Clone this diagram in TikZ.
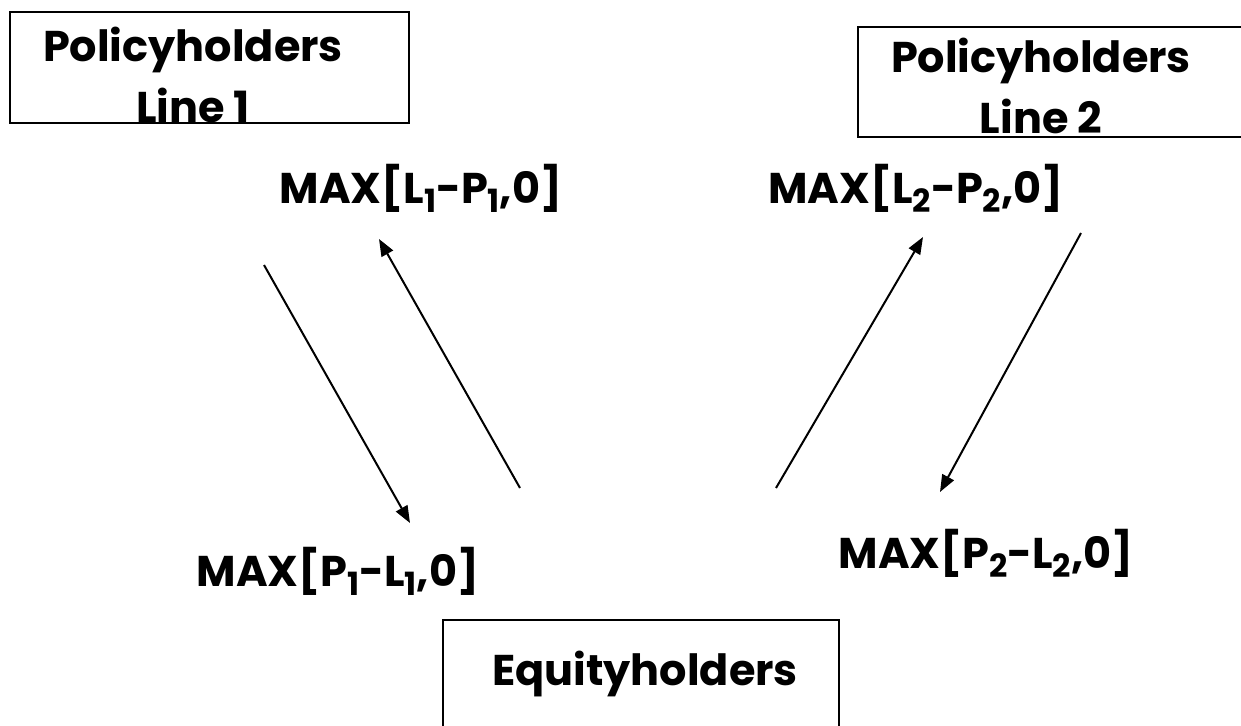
\documentclass[tikz,border=0pt]{standalone}
\usepackage{fontspec}
\setmainfont{Poppins}
\usetikzlibrary{arrows.meta}
\newcommand{\lowidx}[1]{\raisebox{-0.22em}{\fontsize{32}{32}\selectfont #1}}
\begin{document}
\begin{tikzpicture}[x=1pt,y=-1pt]
        \tikzset{holder/.style = {draw,line width=2pt,inner sep=0pt}}
        \tikzset{holdertext/.style = {align=center,anchor=base,inner sep=0pt,font=\fontsize{43}{61}\selectfont\bfseries}}
        \tikzset{payoff/.style = {anchor=base,inner sep=0pt,font=\fontsize{43}{46}\selectfont\bfseries}}
        \tikzset{flow/.style = {line width=2pt,-{Triangle[length=17pt,width=13pt]}}}
        \useasboundingbox (0,0) rectangle (1241,725);
        % boxes of the holders
        \node[holder,minimum width=399pt,minimum height=111pt] (box1) at (209.5,67.5) {};
        \node[holder,minimum width=400pt,minimum height=110pt] (box2) at (1058,82) {};
        \node[holder,minimum width=396pt,minimum height=140pt] (box3) at (641,690) {};
        \node[holdertext] (line1) at (193,122) {Policyholders\\Line 1};
        \node[holdertext] (line2) at (1041,133) {Policyholders\\Line 2};
        \node[holdertext] (equity) at (645,685) {Equityholders};
        % payoffs
        \node[payoff] (call1) at (421,203) {MAX[L\lowidx{1}-P\lowidx{1},0]};
        \node[payoff] (call2) at (916,203) {MAX[L\lowidx{2}-P\lowidx{2},0]};
        \node[payoff] (put1) at (338,586) {MAX[P\lowidx{1}-L\lowidx{1},0]};
        \node[payoff] (put2) at (986,568) {MAX[P\lowidx{2}-L\lowidx{2},0]};
        % ends of the arrows
        \coordinate (a1) at (264,265);
        \coordinate (b1) at (410,523);
        \coordinate (a2) at (520,488);
        \coordinate (b2) at (379,239);
        \coordinate (a3) at (776,488);
        \coordinate (b3) at (923,237);
        \coordinate (a4) at (1081,233);
        \coordinate (b4) at (940,492);
        \draw[flow] (a1) to (b1);
        \draw[flow] (a2) to (b2);
        \draw[flow] (a3) to (b3);
        \draw[flow] (a4) to (b4);
        \end{tikzpicture}
\end{document}
